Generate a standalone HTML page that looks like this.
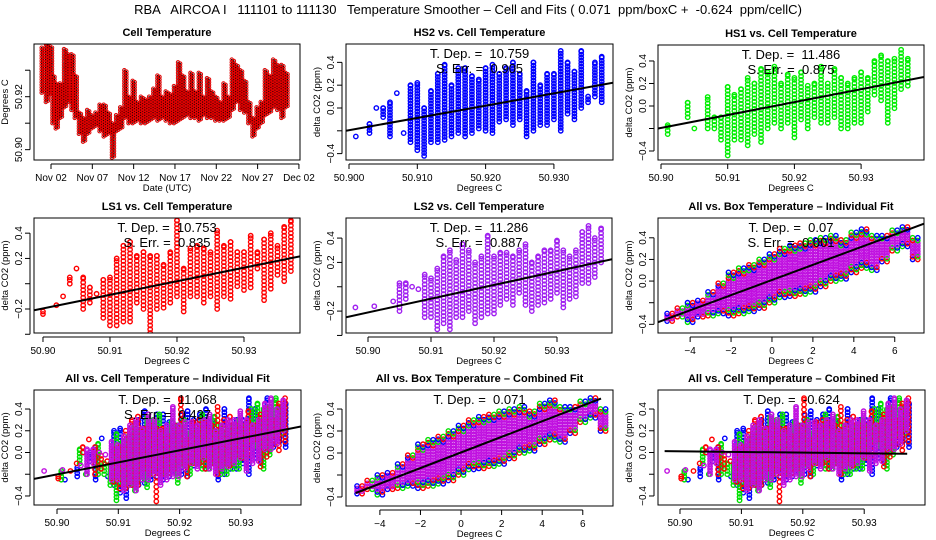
<!DOCTYPE html>
<html><head><meta charset="utf-8"><style>
html,body{margin:0;padding:0;background:#fff}
svg{display:block;font-family:"Liberation Sans",sans-serif}
</style></head><body>
<svg id="chart" width="936" height="540" viewBox="0 0 936 540" xmlns="http://www.w3.org/2000/svg">
<text x="468" y="14" text-anchor="middle" font-size="13" style="white-space:pre" xml:space="preserve">RBA   AIRCOA I   111101 to 111130   Temperature Smoother – Cell and Fits ( 0.071  ppm/boxC +  -0.624  ppm/cellC)</text>
</svg>
<script>
// ---------- data ----------
const cellDays = [1.0,1.5,2.0,2.3,2.7,3.2,3.7,4.2,4.6,5.0,5.5,6.0,6.5,7.0,7.5,8.0,8.5,9.0,9.5,10.0,10.5,11.0,11.5,12.0,12.5,13.0,13.5,14.0,14.5,15.0,15.5,16.0,16.5,17.0,17.5,18.0,18.5,19.0,19.5,20.0,20.5,21.0,21.5,22.0,22.5,23.0,23.5,24.0,24.5,25.0,25.5,26.0,26.5,27.0,27.5,28.0,28.5,29.0,29.5,30.0,30.5];
const cellLo = [50.9215,50.918,50.921,50.910,50.908,50.912,50.916,50.918,50.915,50.912,50.906,50.903,50.906,50.908,50.909,50.907,50.905,50.906,50.897,50.907,50.908,50.912,50.910,50.910,50.911,50.910,50.910,50.911,50.912,50.911,50.912,50.911,50.910,50.910,50.911,50.912,50.913,50.912,50.912,50.911,50.913,50.912,50.912,50.911,50.911,50.911,50.912,50.915,50.918,50.915,50.914,50.910,50.905,50.908,50.910,50.913,50.914,50.916,50.915,50.912,50.916];
const cellHi = [50.9385,50.940,50.939,50.928,50.925,50.925,50.938,50.936,50.936,50.928,50.914,50.912,50.915,50.913,50.914,50.917,50.917,50.914,50.910,50.913,50.916,50.930,50.920,50.926,50.918,50.920,50.919,50.920,50.923,50.928,50.920,50.922,50.921,50.924,50.933,50.928,50.922,50.929,50.922,50.929,50.920,50.927,50.922,50.920,50.918,50.925,50.920,50.934,50.932,50.930,50.926,50.918,50.912,50.916,50.918,50.930,50.928,50.934,50.932,50.932,50.929];
const dayTicks = [2,7,12,17,22,27,32];
const dayTickLabels = ["Nov 02","Nov 07","Nov 12","Nov 17","Nov 22","Nov 27","Dec 02"];

const T = [50.898,50.899,50.900,50.901,50.902,50.903,50.904,50.905,50.906,50.907,50.908,50.909,50.910,50.911,50.912,50.913,50.914,50.915,50.916,50.917,50.918,50.919,50.920,50.921,50.922,50.923,50.924,50.925,50.926,50.927,50.928,50.929,50.930,50.931,50.932,50.933,50.934,50.935,50.936,50.937];
const hs2Lo = [null,null,null,-0.25,null,-0.22,0.0,-0.08,-0.25,0.13,-0.22,-0.3,-0.37,-0.42,-0.3,-0.3,-0.28,-0.25,-0.22,-0.25,-0.22,-0.18,-0.2,-0.22,-0.12,-0.1,-0.15,-0.1,-0.25,-0.2,-0.15,-0.15,-0.1,-0.2,-0.05,-0.1,0.0,0.05,0.1,0.05];
const hs2Hi = [null,null,null,-0.25,null,-0.14,0.0,0.0,0.05,0.13,-0.22,0.2,0.22,0.0,0.15,0.3,0.38,0.2,0.35,0.35,0.28,0.25,0.35,0.38,0.3,0.35,0.4,0.3,0.15,0.4,0.2,0.3,0.3,0.5,0.4,0.32,0.5,0.1,0.4,0.45];
const hs1Lo = [null,null,null,-0.25,null,null,-0.1,-0.2,null,-0.2,-0.2,-0.3,-0.44,-0.3,-0.3,-0.35,-0.25,-0.32,-0.2,-0.15,-0.2,-0.15,-0.28,-0.12,-0.2,-0.1,-0.15,-0.15,-0.1,-0.2,-0.2,-0.15,-0.15,-0.05,0.1,0.05,-0.15,-0.02,0.15,0.18];
const hs1Hi = [null,null,null,-0.17,null,null,0.03,-0.2,null,0.08,-0.1,-0.1,0.17,0.1,0.15,0.25,0.2,0.33,0.3,0.35,0.2,0.28,0.25,0.3,0.18,0.2,0.35,0.2,0.33,0.25,0.2,0.25,0.3,0.25,0.4,0.45,0.4,0.42,0.5,0.42];
const ls1Lo = [null,null,-0.24,null,-0.17,-0.1,0.0,0.12,-0.2,-0.15,-0.08,-0.27,-0.33,-0.33,-0.3,-0.3,-0.15,-0.2,-0.45,-0.2,-0.19,-0.15,-0.1,-0.22,-0.1,-0.1,-0.15,-0.1,-0.2,-0.1,-0.12,-0.02,-0.05,-0.03,0.12,-0.13,-0.04,0.07,0.02,0.1];
const ls1Hi = [null,null,-0.22,null,-0.17,-0.1,0.05,0.12,0.05,-0.03,-0.08,0.03,0.05,0.2,0.3,0.33,0.22,0.25,0.22,0.22,0.15,0.25,0.5,0.12,0.28,0.3,0.28,0.25,0.42,0.3,0.33,0.25,0.25,0.38,0.25,0.35,0.4,0.3,0.45,0.5];
const ls2Lo = [-0.17,null,null,-0.16,null,null,-0.12,-0.2,-0.1,0.0,-0.02,-0.25,-0.25,-0.35,-0.3,-0.35,-0.25,-0.25,-0.2,-0.3,-0.25,-0.22,-0.22,-0.15,-0.1,-0.15,-0.05,-0.15,-0.2,-0.15,-0.13,-0.1,-0.05,-0.17,-0.1,-0.08,0.03,0.03,0.08,0.2];
const ls2Hi = [-0.17,null,null,-0.16,null,null,-0.12,0.03,0.03,0.0,-0.02,0.1,0.07,0.15,0.25,0.3,0.22,0.35,0.3,0.2,0.25,0.42,0.25,0.28,0.28,0.25,0.3,0.35,0.2,0.25,0.3,0.3,0.38,0.3,0.25,0.3,0.45,0.5,0.4,0.48];

const boxX  = [-5,-4.5,-4,-3.5,-3,-2.5,-2,-1.5,-1,-0.5,0,0.5,1,1.5,2,2.5,3,3.5,4,4.5,5,5.5,6,6.5,7];
const boxLo = [-0.37,-0.33,-0.38,-0.33,-0.32,-0.3,-0.32,-0.3,-0.28,-0.25,-0.2,-0.15,-0.14,-0.12,-0.1,-0.05,0.0,0.02,0.08,0.12,0.1,0.18,0.28,0.32,0.2];
const boxHi = [-0.3,-0.25,-0.2,-0.18,-0.1,-0.02,0.08,0.12,0.15,0.2,0.25,0.3,0.33,0.35,0.38,0.4,0.42,0.38,0.45,0.48,0.42,0.42,0.47,0.5,0.4];

const fitSlopes = [10.759,11.486,10.753,11.286,0.07,11.068,0.071,-0.624];
const fitZero   = [50.9181,50.917,50.9182,50.9187,-0.14,50.9182,-0.07,50.918];
const tDepText = ["10.759","11.486","10.753","11.286","0.07","11.068","0.071","-0.624"];
const sErrText = ["0.905","0.875","0.835","0.887","0.001","0.437",null,null];

const cellTicks = [50.90,50.91,50.92,50.93];
const cellTickLabels4 = ["50.900","50.910","50.920","50.930"];
const cellTickLabels2 = ["50.90","50.91","50.92","50.93"];
const boxTicks = [-4,-2,0,2,4,6];
const boxTickLabels = ["−4","−2","0","2","4","6"];
const yTicks = [-0.4,-0.2,0.0,0.2,0.4];

// ---------- helpers ----------
const svg = document.getElementById('chart');
const NS = 'http://www.w3.org/2000/svg';
function mk(tag, attrs, name, parent){
  const el = document.createElementNS(NS, tag);
  for (const k in attrs) el.setAttribute(k, attrs[k]);
  
  
  (parent||svg).appendChild(el);
  return el;
}
function txt(x,y,s,size,name,extra,parent){
  const a = Object.assign({x:x,y:y,'font-size':size,'text-anchor':'middle'}, extra||{});
  const el = mk('text', a, name, parent);
  el.textContent = s;
  return el;
}
function panel(p){
  const g = mk('g', {}, p.name);
  p.g = g;
  p.sx = v => p.x0 + (v - p.xmin) / (p.xmax - p.xmin) * (p.x1 - p.x0);
  p.sy = v => p.y1 - (v - p.ymin) / (p.ymax - p.ymin) * (p.y1 - p.y0);
  const cx = (p.x0 + p.x1) / 2;
  txt(cx, p.y0 - 8, p.title, 11, 'panel-title', {'font-weight':'bold'}, g);
  const xt = p.xticks;
  mk('line', {x1:p.sx(xt[0]), x2:p.sx(xt[xt.length-1]), y1:p.y1+4, y2:p.y1+4, stroke:'#000'}, 'x-axis-line', g);
  xt.forEach((t,i)=>{
    const x = p.sx(t);
    mk('line', {x1:x, x2:x, y1:p.y1+4, y2:p.y1+9, stroke:'#000'}, 'x-tick', g);
    txt(x, p.y1+21, p.xlabels[i], 10, 'x-tick-label', {}, g);
  });
  txt(cx, p.y1+31, p.xtitle, 9.5, 'x-axis-title', {}, g);
  const yt = p.yticks;
  const yl = p.x0 - 4;
  mk('line', {x1:yl, x2:yl, y1:p.sy(yt[0]), y2:p.sy(yt[yt.length-1]), stroke:'#000'}, 'y-axis-line', g);
  yt.forEach((t,i)=>{
    const y = p.sy(t);
    mk('line', {x1:yl-5, x2:yl, y1:y, y2:y, stroke:'#000'}, 'y-tick', g);
    if (p.ylabels[i]) txt(yl-8, y, p.ylabels[i], 10, 'y-tick-label', {transform:`rotate(-90 ${yl-8} ${y})`}, g);
  });
  const ty = p.x0 - 26, tyy = (p.y0 + p.y1)/2;
  txt(ty, tyy, p.ytitle, 9.5, 'y-axis-title', {transform:`rotate(-90 ${ty} ${tyy})`}, g);
  const cid = 'clip-' + p.name;
  const cp = mk('clipPath', {id:cid}, 'clip', g);
  mk('rect', {x:p.x0, y:p.y0, width:p.x1-p.x0, height:p.y1-p.y0}, 'clip-rect', cp);
  p.plot = mk('g', {'clip-path':`url(#${cid})`}, 'plot-area', g);
  return p;
}
function finish(p){
  mk('rect', {x:p.x0, y:p.y0, width:p.x1-p.x0, height:p.y1-p.y0, fill:'none', stroke:'#000'}, 'plot-frame', p.g);
}
function dot(p, x, y, color, name){
  return mk('circle', {cx:p.sx(x), cy:p.sy(y), r:2.2, fill:'none', stroke:color, 'stroke-width':1.4}, name, p.plot);
}
function columns(p, lo, hi, color, name, step, dx){
  step = step || 0.026;
  dx = dx || 0;
  T.forEach((t,i)=>{
    if (lo[i] === null) return;
    const a = Math.min(lo[i],hi[i]), b = Math.max(lo[i],hi[i]);
    for (let v = a; v <= b + 1e-9; v += step) dot(p, t + dx, v, color, name);
    if (b - a > 0.01) dot(p, t + dx, b, color, name);
  });
}
const bandColors = ['#0000ff','#ff0000','#00e000'];
function boxBand(p){
  boxX.forEach((x,i)=>{
    [x - 0.125, x + 0.125].forEach((xx,k)=>{
      const a = boxLo[i], b = boxHi[i];
      const n = Math.max(1, Math.round((b - a)/0.026));
      for (let j = 0; j <= n; j++){
        const v = a + (b - a) * j / n;
        const f = j / n;
        const col = (f < 0.15 || f > 0.85) ? bandColors[(i + j + k) % 3] : '#c010e0';
        dot(p, xx, v, col, 'box-point');
      }
    });
  });
}
function fitLine(p, k, xa, xb){
  const f = v => fitSlopes[k] * (v - fitZero[k]);
  mk('line', {x1:p.sx(xa), y1:p.sy(f(xa)), x2:p.sx(xb), y2:p.sy(f(xb)), stroke:'#000', 'stroke-width':2}, 'fit-line', p.plot);
}
function annot(p, k){
  const cx = (p.x0 + p.x1)/2;
  txt(cx, p.y0 + 14, 'T. Dep. =  ' + tDepText[k], 13, 'temp-dependence-label', {style:'white-space:pre'}, p.g);
  if (sErrText[k]) txt(cx, p.y0 + 29, 'S. Err. =  ' + sErrText[k], 13, 'std-error-label', {style:'white-space:pre'}, p.g);
}
const yLab = ["−0.4","","0.0","0.2","0.4"];
const yLab5 = ["","−0.2","","0.2","0.4"];

// ---------- panel 1 ----------
const p1 = panel({name:'cell-temperature-panel', title:'Cell Temperature', x0:34,x1:300,y0:44,y1:160, xmin:-0.057,xmax:32.13, ymin:50.8961,ymax:50.9399,
  xticks:dayTicks, xlabels:dayTickLabels, yticks:cellTicks, ylabels:["50.90","","50.92",""], xtitle:'Date (UTC)', ytitle:'Degrees C'});
cellDays.forEach((d,i)=>{
  [d-0.13, d+0.13].forEach((dd,k)=>{
    for (let v = cellLo[i] + k*0.0005; v <= cellHi[i] + 1e-9; v += 0.001){
      mk('circle', {cx:p1.sx(dd), cy:p1.sy(v), r:1.7, fill:'none', stroke:'#e00000', 'stroke-width':1}, 'cell-temp-point', p1.plot);
      mk('circle', {cx:p1.sx(dd), cy:p1.sy(v), r:0.7, fill:'#000'}, 'cell-temp-point-center', p1.plot);
    }
  });
});
finish(p1);

// ---------- scatter panels ----------
const cellP = (name,title,geo,yl,xl) => panel(Object.assign({name:name,title:title,xticks:cellTicks,xlabels:xl,yticks:yTicks,ylabels:yl,xtitle:'Degrees C',ytitle:'delta CO2 (ppm)'},geo));

const p2 = cellP('hs2-panel','HS2 vs. Cell Temperature',{x0:346,x1:613,y0:44,y1:160,xmin:50.89956,xmax:50.93865,ymin:-0.456,ymax:0.561}, yLab, cellTickLabels4);
columns(p2, hs2Lo, hs2Hi, '#0000ff', 'hs2-point');
fitLine(p2, 0, p2.xmin, p2.xmax); finish(p2); annot(p2, 0);

const p3 = cellP('hs1-panel','HS1 vs. Cell Temperature',{x0:658,x1:924,y0:45,y1:160,xmin:50.89955,xmax:50.93943,ymin:-0.48,ymax:0.542}, yLab, cellTickLabels2);
columns(p3, hs1Lo, hs1Hi, '#00ee00', 'hs1-point', 0.032);
fitLine(p3, 1, p3.xmin, p3.xmax); finish(p3); annot(p3, 1);

const p4 = cellP('ls1-panel','LS1 vs. Cell Temperature',{x0:34,x1:300,y0:218,y1:333,xmin:50.89866,xmax:50.93836,ymin:-0.39,ymax:0.52}, yLab5, cellTickLabels2);
columns(p4, ls1Lo, ls1Hi, '#ff0000', 'ls1-point', 0.03);
fitLine(p4, 2, p4.xmin, p4.xmax); finish(p4); annot(p4, 2);

const p5 = cellP('ls2-panel','LS2 vs. Cell Temperature',{x0:346,x1:612,y0:218,y1:333,xmin:50.89651,xmax:50.93873,ymin:-0.38,ymax:0.565}, yLab5, cellTickLabels2);
columns(p5, ls2Lo, ls2Hi, '#a020f0', 'ls2-point', 0.03);
fitLine(p5, 3, p5.xmin, p5.xmax); finish(p5); annot(p5, 3);

const p6 = panel({name:'all-box-individual-panel', title:'All vs. Box Temperature – Individual Fit', x0:658,x1:924,y0:218,y1:333, xmin:-5.57,xmax:7.43, ymin:-0.48,ymax:0.583,
  xticks:boxTicks, xlabels:boxTickLabels, yticks:yTicks, ylabels:yLab, xtitle:'Degrees C', ytitle:'delta CO2 (ppm)'});
boxBand(p6);
fitLine(p6, 4, p6.xmin, p6.xmax); finish(p6); annot(p6, 4);

function allCell(p){
  columns(p, hs2Lo, hs2Hi, '#0000ff', 'hs2-point', 0.03, 0.0003);
  columns(p, hs1Lo, hs1Hi, '#00e000', 'hs1-point', 0.03, -0.0003);
  columns(p, ls1Lo, ls1Hi, '#ff0000', 'ls1-point', 0.045, 0.0002);
  columns(p, ls2Lo, ls2Hi, '#c010e0', 'ls2-point', 0.024, -0.0001);
}
const p7 = cellP('all-cell-individual-panel','All vs. Cell Temperature – Individual Fit',{x0:34,x1:301,y0:390,y1:505,xmin:50.89625,xmax:50.9398,ymin:-0.483,ymax:0.575}, yLab, cellTickLabels2);
allCell(p7);
fitLine(p7, 5, p7.xmin, p7.xmax); finish(p7); annot(p7, 5);

const p8 = panel({name:'all-box-combined-panel', title:'All vs. Box Temperature – Combined Fit', x0:346,x1:613,y0:390,y1:506, xmin:-5.67,xmax:7.49, ymin:-0.482,ymax:0.573,
  xticks:boxTicks, xlabels:boxTickLabels, yticks:yTicks, ylabels:yLab, xtitle:'Degrees C', ytitle:'delta CO2 (ppm)'});
boxBand(p8);
fitLine(p8, 6, -5.2, 6.9); finish(p8); annot(p8, 6);

const p9 = cellP('all-cell-combined-panel','All vs. Cell Temperature – Combined Fit',{x0:658,x1:925,y0:390,y1:505,xmin:50.89642,xmax:50.9399,ymin:-0.483,ymax:0.575}, yLab, cellTickLabels2);
allCell(p9);
fitLine(p9, 7, 50.8975, 50.937); finish(p9); annot(p9, 7);
</script>
</body></html>
